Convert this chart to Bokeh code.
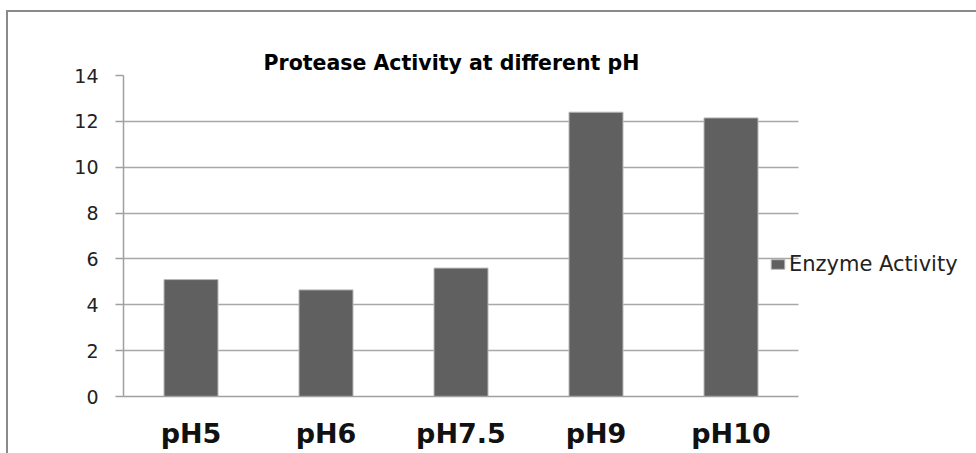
from bokeh.plotting import figure
from bokeh.models import ColumnDataSource, Legend, LegendItem, FixedTicker, Range1d
from bokeh.embed import file_html
from bokeh.resources import INLINE

categories = ["pH5", "pH6", "pH7.5", "pH9", "pH10"]
activity = [5.1, 4.65, 5.6, 12.4, 12.15]
y_ticks = [0, 2, 4, 6, 8, 10, 12, 14]
series_name = "Enzyme Activity"
title_text = "Protease Activity at different pH"

# category slots on a numeric axis (slot centre = index + 0.5)
x_pos = [i + 0.5 for i in range(len(categories))]
n = len(categories)

p = figure(x_range=Range1d(0, 853 / 135), y_range=Range1d(0, 14),
           frame_width=853, frame_height=321,
           output_backend="svg", toolbar_location=None,
           min_border_left=115, min_border_right=0,
           min_border_top=63, min_border_bottom=57)
p.styles = {"border-top": "2px solid #8a8a8a", "border-left": "2px solid #8a8a8a",
            "margin-left": "6px", "margin-top": "10px"}

src = ColumnDataSource(dict(x=x_pos, val=activity, cat=categories))
r = p.vbar(x="x", top="val", width=0.4, source=src,
           fill_color="#606060", line_color="#b8b8b8", line_width=1)

p.title.text = title_text
p.title.align = "left"
p.title.offset = 140
p.title.text_font = "DejaVu Sans"
p.title.text_font_style = "bold"
p.title.text_font_size = "20.5px"
p.title.text_color = "#000000"
p.title.standoff = 1

p.outline_line_color = None
p.background_fill_color = "white"
p.border_fill_color = "white"

p.xgrid.grid_line_color = None
p.ygrid.grid_line_color = "#a8a8a8"
p.ygrid.grid_line_width = 1.5
p.ygrid.cross_bounds = (0, n)
p.yaxis.ticker = FixedTicker(ticks=y_ticks)
p.yaxis.axis_line_color = "#a0a0a0"
p.yaxis.axis_line_width = 1.5
p.yaxis.major_tick_line_color = "#a0a0a0"
p.yaxis.major_tick_line_width = 1.5
p.yaxis.major_tick_out = 8
p.yaxis.major_tick_in = 0
p.yaxis.minor_tick_line_color = None
p.yaxis.major_label_standoff = 17
p.yaxis.major_label_text_font = "DejaVu Sans"
p.yaxis.major_label_text_font_size = "19px"
p.yaxis.major_label_text_color = "#222222"

p.xaxis.bounds = (0, n)
p.xaxis.ticker = FixedTicker(ticks=x_pos)
p.xaxis.major_label_overrides = {x: c for x, c in zip(x_pos, categories)}
p.xaxis.axis_line_color = "#a0a0a0"
p.xaxis.axis_line_width = 1.5
p.xaxis.major_tick_line_color = None
p.xaxis.minor_tick_line_color = None
p.xaxis.major_label_standoff = 15
p.xaxis.major_label_text_font = "DejaVu Sans"
p.xaxis.major_label_text_font_style = "bold"
p.xaxis.major_label_text_font_size = "27px"
p.xaxis.major_label_text_color = "#111111"

legend = Legend(items=[LegendItem(label=series_name, renderers=[r])],
                location=(646, 120), orientation="vertical",
                background_fill_alpha=0, border_line_color=None,
                padding=0, margin=0, spacing=0,
                glyph_width=17, glyph_height=12, label_standoff=3,
                label_height=24,
                label_text_font="DejaVu Sans", label_text_font_size="21px",
                label_text_color="#222222")
p.add_layout(legend, "center")

open("out.html", "w").write(file_html(p, INLINE))
